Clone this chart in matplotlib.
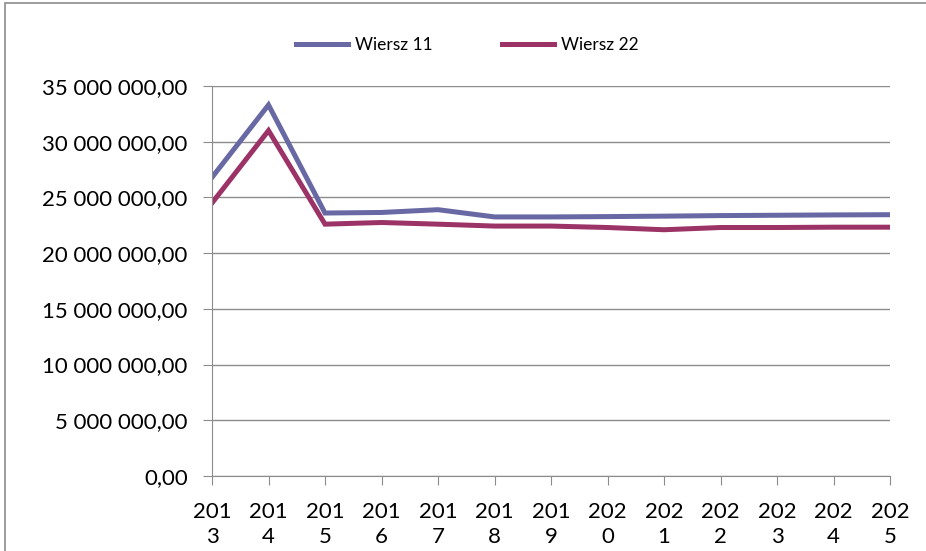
import matplotlib
matplotlib.use('Agg')
import matplotlib.pyplot as plt
from matplotlib.patches import Rectangle
from matplotlib.ticker import FuncFormatter

# dane
lata = [2013, 2014, 2015, 2016, 2017, 2018, 2019, 2020, 2021, 2022, 2023, 2024, 2025]
wiersz_11 = [26.8e6, 33.3e6, 23.6e6, 23.65e6, 23.9e6, 23.25e6, 23.25e6, 23.28e6, 23.32e6, 23.37e6, 23.4e6, 23.43e6, 23.45e6]
wiersz_22 = [24.5e6, 31.0e6, 22.6e6, 22.75e6, 22.6e6, 22.43e6, 22.43e6, 22.3e6, 22.1e6, 22.3e6, 22.3e6, 22.33e6, 22.33e6]
nazwy = ['Wiersz 11', 'Wiersz 22']
kolory = ['#6868A4', '#9B3366']

plt.rcParams['font.family'] = ['Lato', 'DejaVu Sans']
szary = '#8C8C8C'

fig = plt.figure(figsize=(9.26, 5.51), dpi=100)
ax = fig.add_axes([212/926, 75/551, 678/926, 390/551])

for dane, nazwa, kolor in zip([wiersz_11, wiersz_22], nazwy, kolory):
    ax.plot(lata, dane, color=kolor, lw=3.6, label=nazwa, solid_joinstyle='miter')

ax.set_xlim(lata[0], lata[-1])
ax.set_ylim(0, 35e6)
ax.set_yticks(range(0, 35000001, 5000000))
ax.yaxis.set_major_formatter(FuncFormatter(
    lambda v, p: f'{v:,.2f}'.replace(',', ' ').replace('.', ',')))
ax.set_xticks(lata)
ax.set_xticklabels([str(r)[:3] + '\n' + str(r)[3:] for r in lata], linespacing=1.35)

ax.grid(axis='y', color=szary, lw=1)
ax.set_axisbelow(True)
for s in ['top', 'right']:
    ax.spines[s].set_visible(False)
for s in ['left', 'bottom']:
    ax.spines[s].set_color(szary)
ax.tick_params(axis='both', colors=szary, length=6.5, labelsize=16, labelcolor='black')
ax.tick_params(axis='y', pad=11)
ax.tick_params(axis='x', pad=12)

fig.legend(loc='center', bbox_to_anchor=(467/926, 0.918), ncol=2, frameon=False,
           fontsize=12.5, handlelength=3.0, handletextpad=0.4, columnspacing=4.0)

# ramka wykresu
fig.patches.append(Rectangle((5/926, -0.2), 1.5, 1.2 - 3/551, transform=fig.transFigure,
                             fill=False, ec=szary, lw=1.2))

fig.savefig('out.png', dpi=100)
